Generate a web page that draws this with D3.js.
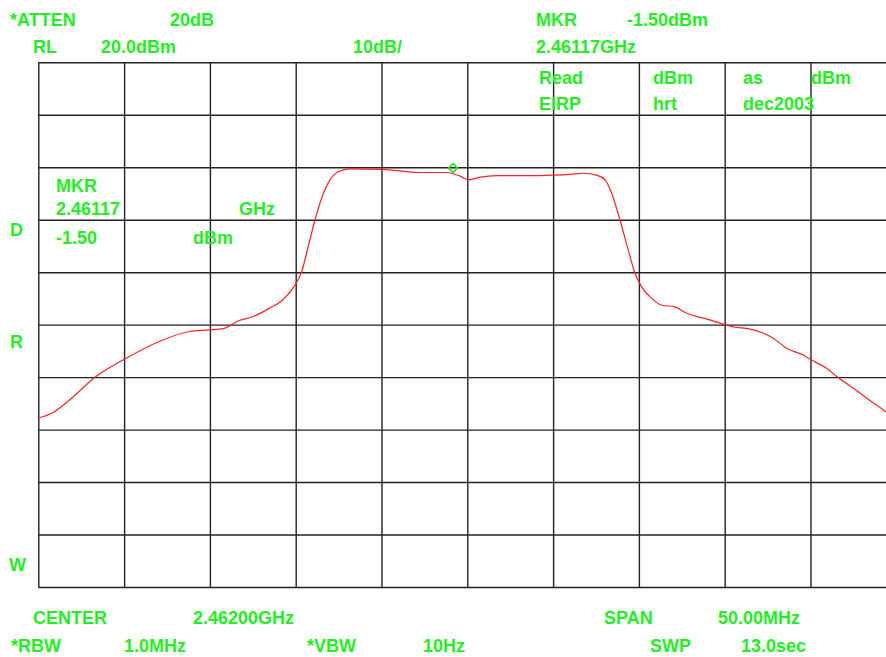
<!DOCTYPE html>
<html><head><meta charset="utf-8">
<script src="https://cdn.jsdelivr.net/npm/d3@7/dist/d3.min.js"></script>
<style>
html,body{margin:0;padding:0;background:#fff;}
svg{display:block;}
text{font-family:"Liberation Sans",Arial,sans-serif;font-weight:bold;font-size:18px;fill:#22ee22;}
</style></head>
<body>
<svg id="c" width="886" height="657"></svg>
<script>
// ---- data ----
const centerMHz = 2462.0;
const spanMHz = 50.0;
const refLevel = 20;      // dBm
const dbPerDiv = 10;
const divisions = 10;

const freqMHz = [2437.00,2437.84,2438.81,2440.36,2442.01,2444.05,2445.80,2446.97,2447.84,2448.71,
  2449.49,2450.46,2451.24,2451.83,2452.35,2452.73,2453.12,2453.51,2454.00,2454.48,
  2455.16,2456.91,2458.08,2459.24,2460.80,2461.58,2462.06,2462.74,2463.72,2465.65,
  2467.01,2467.98,2468.76,2469.54,2470.03,2470.42,2470.90,2471.38,2471.77,2472.16,
  2472.75,2473.33,2474.10,2474.69,2476.14,2476.92,2477.60,2478.28,2479.83,2480.61,
  2481.58,2481.97,2482.94,2483.53,2484.49,2485.66,2486.40];
const levelDbm = [-47.8,-46.8,-44.4,-39.9,-36.6,-33.2,-31.3,-31.0,-30.7,-29.2,
  -28.5,-26.9,-25.3,-23.1,-19.9,-15.1,-10.1,-5.9,-2.4,-0.85,
  -0.3,-0.4,-0.7,-1.0,-1.0,-1.7,-2.4,-1.9,-1.6,-1.6,
  -1.5,-1.35,-1.15,-1.5,-2.4,-5.0,-10.1,-15.8,-20.2,-22.8,
  -25.0,-26.3,-26.6,-27.7,-29.1,-29.9,-30.5,-30.7,-32.6,-34.5,
  -35.8,-36.6,-38.3,-39.9,-42.1,-44.9,-46.6];

const markerFreqMHz = 2461.17;
const markerLevel = -1.50;

const headerTexts = ["*ATTEN","20dB","MKR","-1.50dBm","RL","20.0dBm","10dB/","2.46117GHz"];
const noteTexts = ["Read","dBm","as","dBm","EIRP","hrt","dec2003"];
const mkrTexts = ["MKR","2.46117","GHz","-1.50","dBm"];
const sideTexts = ["D","R","W"];
const footerTexts = ["CENTER","2.46200GHz","SPAN","50.00MHz","*RBW","1.0MHz","*VBW","10Hz","SWP","13.0sec"];

// ---- layout ----
const svg = d3.select("#c");
const L = 38.3, T = 62.3, divW = 85.8, divH = 52.47;
const R = L + divW*divisions, B = T + divH*divisions;

const x = d3.scaleLinear().domain([centerMHz - spanMHz/2, centerMHz + spanMHz/2]).range([L, R]);
const y = d3.scaleLinear().domain([refLevel, refLevel - dbPerDiv*divisions]).range([T, B]);

const xTicks = d3.range(divisions+1).map(i => centerMHz - spanMHz/2 + i*spanMHz/divisions);
const yTicks = d3.range(divisions+1).map(i => refLevel - i*dbPerDiv);

// grid via axes
const gx = svg.append("g").attr("transform", `translate(0,${B})`)
  .call(d3.axisBottom(x).tickValues(xTicks).tickSize(-(B-T)).tickFormat(""));
const gy = svg.append("g").attr("transform", `translate(${L},0)`)
  .call(d3.axisLeft(y).tickValues(yTicks).tickSize(-(R-L)).tickFormat(""));
[gx,gy].forEach(g => {
  g.select(".domain").remove();
  g.selectAll(".tick line").attr("stroke","#222").attr("stroke-width",1.4);
});

// trace
const line = d3.line().x((d,i)=>x(freqMHz[i])).y((d,i)=>y(levelDbm[i])).curve(d3.curveMonotoneX);
svg.append("path").datum(levelDbm).attr("d", line)
  .attr("fill","none").attr("stroke","#ff2020").attr("stroke-width",1.2);

// marker diamond
const mx = x(markerFreqMHz), my = y(markerLevel) - 7;
const s = 4.5;
svg.append("path").attr("d", `M${mx},${my-s}L${mx+s},${my}L${mx},${my+s}L${mx-s},${my}Z`)
  .attr("fill","none").attr("stroke","#22dd22").attr("stroke-width",1.5);

// texts
function put(arr, pos){
  arr.forEach((t,i)=>svg.append("text").attr("x",pos[i][0]).attr("y",pos[i][1]).text(t));
}
put(headerTexts, [[10,26],[170,26],[536,26],[627,26],[33,53],[101,53],[353,53],[536,53]]);
put(noteTexts, [[539,84],[653,84],[743,84],[811,84],[539,110],[653,110],[743,110]]);
put(mkrTexts, [[56,192],[56,215],[239,215],[56,244],[193,244]]);
put(sideTexts, [[10,236],[10,348],[9,571]]);
put(footerTexts, [[33,624],[193,624],[604,624],[718,624],[11,652],[124,652],[307,652],[423,652],[650,652],[741,652]]);
</script>
</body></html>
